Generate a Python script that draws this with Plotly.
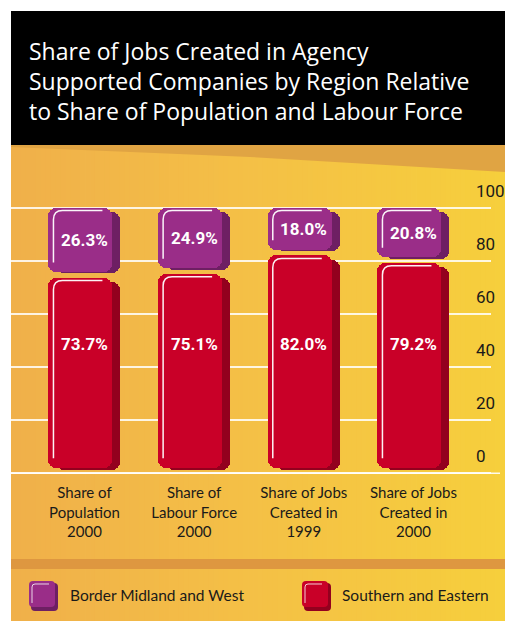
import plotly.graph_objects as go

# ---------------- data ----------------
categories = ["Share of<br>Population<br>2000",
              "Share of<br>Labour Force<br>2000",
              "Share of Jobs<br>Created in<br>1999",
              "Share of Jobs<br>Created in<br>2000"]
southern_eastern = [73.7, 75.1, 82.0, 79.2]
border_midland_west = [26.3, 24.9, 18.0, 20.8]
y_ticks = [0, 20, 40, 60, 80, 100]
series_names = ["Border Midland and West", "Southern and Eastern"]
title_lines = ["Share of Jobs Created in Agency",
               "Supported Companies by Region Relative",
               "to Share of Population and Labour Force"]

# ---------------- styling ----------------
W, H = 505, 621
PL, PR = 11, 491          # plot area left/right (px)
PT, PB = 205, 476         # plot area top/bottom (px)
PURPLE, PURPLE_D = "#9a2d88", "#6e1f63"
RED, RED_D = "#c90028", "#93001e"
NUM_FONT = "Roboto, sans-serif"
LABEL_FONT = "Lato, Open Sans, sans-serif"

def pp(px, py):
    return (px - PL) / (PR - PL), (PB - py) / (PB - PT)

n = len(categories)
xs = list(range(n))
UNIT = 109.67  # px per category
FACE_W = 64 / UNIT
FACE_OFF = -0.3285
SHADOW_OFF = FACE_OFF + 8 / UNIT

fig = go.Figure()

def add_rounded(bottoms, tops, offset, color):
    fig.add_trace(go.Bar(x=xs, base=bottoms,
                         y=[t - b for b, t in zip(bottoms, tops)],
                         offset=offset, width=FACE_W,
                         marker=dict(color=color, line=dict(width=0), cornerradius=8),
                         showlegend=False, hoverinfo="skip"))

red_bottom = [0.0] * n
red_top = southern_eastern
pur_bottom = southern_eastern
pur_top = [a + b for a, b in zip(southern_eastern, border_midland_west)]

GAP = 2.2
# shadows
add_rounded([b + GAP - 1.0 for b in red_bottom], [t - 1.6 for t in red_top], SHADOW_OFF, RED_D)
add_rounded([b + GAP - 0.6 for b in pur_bottom], [t - 1.8 for t in pur_top], SHADOW_OFF, PURPLE_D)
# faces
add_rounded([b + GAP for b in red_bottom], red_top, FACE_OFF, RED)
add_rounded([b + GAP for b in pur_bottom], pur_top, FACE_OFF, PURPLE)

shapes = []

# ---- background ----
stops = [(11, (240, 176, 74)), (250, (244, 192, 70)), (505, (246, 207, 60))]
def grad(px):
    for (x0, c0), (x1, c1) in zip(stops[:-1], stops[1:]):
        if px <= x1:
            f = (px - x0) / (x1 - x0)
            return tuple(int(round(c0[k] + (c1[k] - c0[k]) * f)) for k in range(3))
    return stops[-1][1]

NS = 100
sw = (505 - 11) / NS
for k in range(NS):
    xa = 11 + k * sw
    c = grad(xa + sw / 2)
    x0, y0 = pp(xa, 621)
    x1, y1 = pp(xa + sw + 0.8, 145)
    shapes.append(dict(type="rect", xref="paper", yref="paper", x0=x0, x1=x1, y0=y0, y1=y1,
                       fillcolor="rgb(%d,%d,%d)" % c, line=dict(width=0), layer="below"))

def path_px(points, close=True):
    s = ""
    for cmd, pts in points:
        coords = " ".join("%.5f,%.5f" % pp(*p) for p in pts)
        s += cmd + coords + " "
    if close:
        s += "Z"
    return s

# top darker band
shapes.append(dict(type="path", xref="paper", yref="paper", layer="below",
                   path=path_px([("M", [(11, 144)]), ("L", [(505, 144)]), ("L", [(505, 172)]),
                                 ("L", [(250, 157)]), ("L", [(11, 147)])]),
                   fillcolor="#e0a443", line=dict(width=0)))
# black header
x0, y0 = pp(11, 145); x1, y1 = pp(505, 11)
shapes.append(dict(type="rect", xref="paper", yref="paper", x0=x0, x1=x1, y0=y0, y1=y1,
                   fillcolor="black", line=dict(width=0), layer="below"))
# bottom band
x0, y0 = pp(11, 569); x1, y1 = pp(505, 559)
shapes.append(dict(type="rect", xref="paper", yref="paper", x0=x0, x1=x1, y0=y0, y1=y1,
                   fillcolor="#de9740", line=dict(width=0), layer="below"))

# baseline
shapes.append(dict(type="line", xref="paper", yref="y", x0=0, x1=(500 - PL) / (PR - PL), y0=0, y1=0,
                   line=dict(color="rgba(255,255,255,0.9)", width=1.5)))

# ---- highlights on bars ----
def highlight(i, b, t):
    L = i + FACE_OFF
    R = L + FACE_W
    xl = L + 5 / UNIT
    yt = t - 1.1
    r_x, r_y = 9 / UNIT, 3.4
    p = "M %.4f,%.4f L %.4f,%.4f Q %.4f,%.4f %.4f,%.4f L %.4f,%.4f" % (
        xl, b + 3.5, xl, yt - r_y, xl, yt, xl + r_x, yt, R - 10 / UNIT, yt)
    return dict(type="path", xref="x", yref="y", path=p,
                line=dict(color="rgba(255,255,255,0.95)", width=1.5))

for i in xs:
    shapes.append(highlight(i, red_bottom[i] + GAP, red_top[i]))
    shapes.append(highlight(i, pur_bottom[i] + GAP, pur_top[i]))

# ---- legend squares ----
def rounded_rect(xa, ya, xb, yb, r):
    return path_px([("M", [(xa + r, ya)]), ("L", [(xb - r, ya)]), ("Q", [(xb, ya), (xb, ya + r)]),
                    ("L", [(xb, yb - r)]), ("Q", [(xb, yb), (xb - r, yb)]), ("L", [(xa + r, yb)]),
                    ("Q", [(xa, yb), (xa, yb - r)]), ("L", [(xa, ya + r)]), ("Q", [(xa, ya), (xa + r, ya)])])

annotations = []
legend_items = [(29, series_names[0], PURPLE, PURPLE_D, 68),
                (302, series_names[1], RED, RED_D, 340)]
for lx, name, col, dcol, tx in legend_items:
    shapes.append(dict(type="path", xref="paper", yref="paper",
                       path=rounded_rect(lx + 2, 583, lx + 29, 611, 4), fillcolor=dcol, line=dict(width=0)))
    shapes.append(dict(type="path", xref="paper", yref="paper",
                       path=rounded_rect(lx, 581, lx + 26, 607, 4), fillcolor=col, line=dict(width=0)))
    shapes.append(dict(type="path", xref="paper", yref="paper",
                       path=path_px([("M", [(lx + 3, 603)]), ("L", [(lx + 3, 587)]),
                                     ("Q", [(lx + 3, 584), (lx + 6, 584)]), ("L", [(lx + 20, 584)])], close=False),
                       line=dict(color="rgba(255,255,255,0.8)", width=1)))
    ax, ay = pp(tx, 595)
    annotations.append(dict(xref="paper", yref="paper", x=ax, y=ay, text=name, showarrow=False,
                            xanchor="left", yanchor="middle",
                            font=dict(family=LABEL_FONT, size=15.5, color="#1a1a1a")))

# ---- value labels ----
for i in xs:
    annotations.append(dict(x=i, y=(pur_bottom[i] + pur_top[i]) / 2 + 1, xref="x", yref="y",
                            text="%.1f%%" % border_midland_west[i], showarrow=False,
                            font=dict(family=NUM_FONT, size=17, color="white", weight="bold")))
    annotations.append(dict(x=i, y=48.5, xref="x", yref="y",
                            text="%.1f%%" % southern_eastern[i], showarrow=False,
                            font=dict(family=NUM_FONT, size=17, color="white", weight="bold")))

# ---- y tick labels ----
for v in y_ticks:
    annotations.append(dict(x=(474 - PL) / (PR - PL), y=v, xref="paper", yref="y", yshift=17,
                            text=str(v), showarrow=False, xanchor="left", yanchor="middle",
                            font=dict(family=NUM_FONT, size=17, color="#1a1a1a")))

# ---- title ----
tx, ty = pp(27, 81)
annotations.append(dict(xref="paper", yref="paper", x=tx, y=ty, text="<br>".join(title_lines),
                        showarrow=False, xanchor="left", yanchor="middle", align="left",
                        font=dict(family="Open Sans, sans-serif", size=23, color="white")))

fig.update_layout(
    width=W, height=H, autosize=False,
    margin=dict(l=PL, r=W - PR, t=PT, b=H - PB, pad=0),
    paper_bgcolor="white", plot_bgcolor="rgba(0,0,0,0)",
    barmode="overlay", bargap=0,
    shapes=shapes, annotations=annotations,
    xaxis=dict(type="linear", range=[-0.670, 3.707], tickvals=xs, ticktext=categories,
               showgrid=False, zeroline=False, showline=False, ticks="", ticklabelstandoff=6,
               tickfont=dict(family=LABEL_FONT, size=15, color="#1a1a1a")),
    yaxis=dict(range=[-1, 101], tickvals=y_ticks, showticklabels=False,
               showgrid=True, gridcolor="rgba(255,255,255,0.85)", gridwidth=1.5,
               zeroline=False, showline=False, ticks=""),
    showlegend=False,
)

fig.write_html("out.html")
